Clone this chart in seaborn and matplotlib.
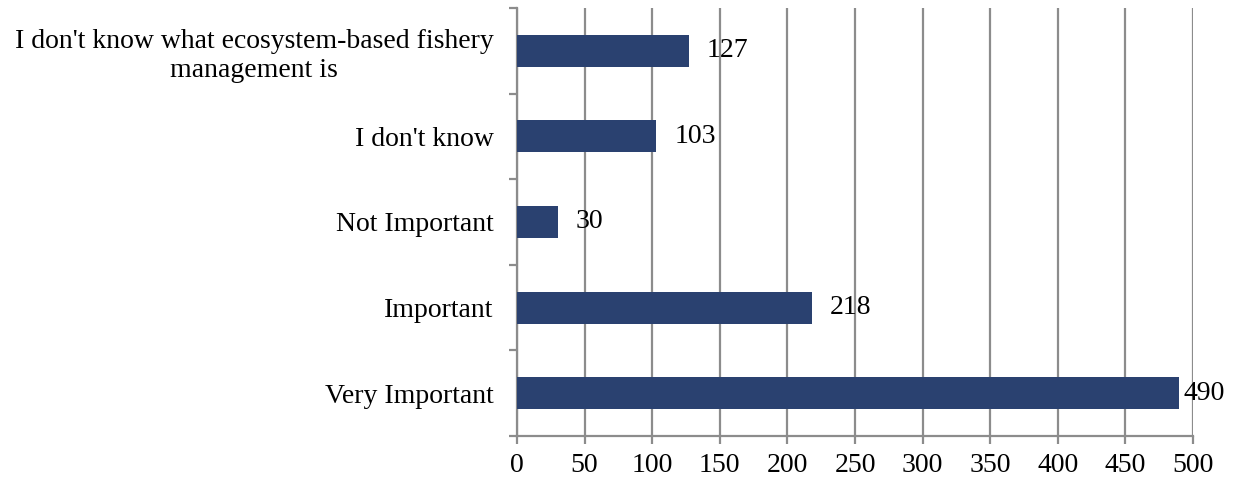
import pandas as pd
import matplotlib.pyplot as plt
import seaborn as sns
import numpy as np

categories = ["I don't know what ecosystem-based fishery\nmanagement is",
              "I don't know", 'Not Important', 'Important', 'Very Important']
counts = [127, 103, 30, 218, 490]
x_ticks = [0, 50, 100, 150, 200, 250, 300, 350, 400, 450, 500]

df = pd.DataFrame({'Answer': categories, 'Count': counts})

sns.set_style('white')
plt.rcParams['font.family'] = ['Liberation Serif', 'DejaVu Serif']
plt.rcParams['text.color'] = 'black'
plt.rcParams['xtick.labelcolor'] = 'black'
plt.rcParams['ytick.labelcolor'] = 'black'

fig = plt.figure(figsize=(12.47, 4.84), dpi=100)
ax = fig.add_axes([0.4146, 0.0992, 0.5421, 0.8843])

sns.barplot(y='Answer', x='Count', data=df, order=categories, color='#2a4170',
            saturation=1, width=0.375, linewidth=0, ax=ax, zorder=3)

grid_c = '#8c8c8c'
fs = 20
ax.set_xlim(0, 500)
ax.set_ylim(len(categories) - 0.5, -0.5)
ax.set_xticks(x_ticks)
ax.set_xticklabels([str(t) for t in x_ticks])
ax.xaxis.grid(True, color=grid_c, linewidth=1.6, zorder=0)
ax.yaxis.grid(False)
ax.set_axisbelow(True)
ax.set(xlabel='', ylabel='')

for side in ['top', 'right']:
    ax.spines[side].set_visible(False)
for side in ['left', 'bottom']:
    ax.spines[side].set_color(grid_c)
    ax.spines[side].set_linewidth(1.6)

ax.tick_params(axis='x', which='major', direction='out', length=6, width=1.6,
               color=grid_c, labelsize=fs, labelcolor='black', pad=6, bottom=True)
ax.tick_params(axis='y', which='major', length=0, labelsize=fs,
               labelcolor='black', pad=17)
ax.set_yticks(np.arange(-0.5, len(categories), 1.0), minor=True)
ax.tick_params(axis='y', which='minor', direction='out', length=6, width=1.6,
               color=grid_c, left=True)
for lab in ax.get_yticklabels():
    lab.set_multialignment('center')
    lab.set_linespacing(1.2)

for c in ax.containers:
    pads = [13 if v < 450 else 3 for v in counts]
    for bar, v, p in zip(c, counts, pads):
        ax.annotate(str(v), (bar.get_width(), bar.get_y() + bar.get_height() / 2),
                    xytext=(p, 0), textcoords='offset points', va='center',
                    ha='left', fontsize=fs, color='black', annotation_clip=False)

plt.savefig('out.png', dpi=100)
